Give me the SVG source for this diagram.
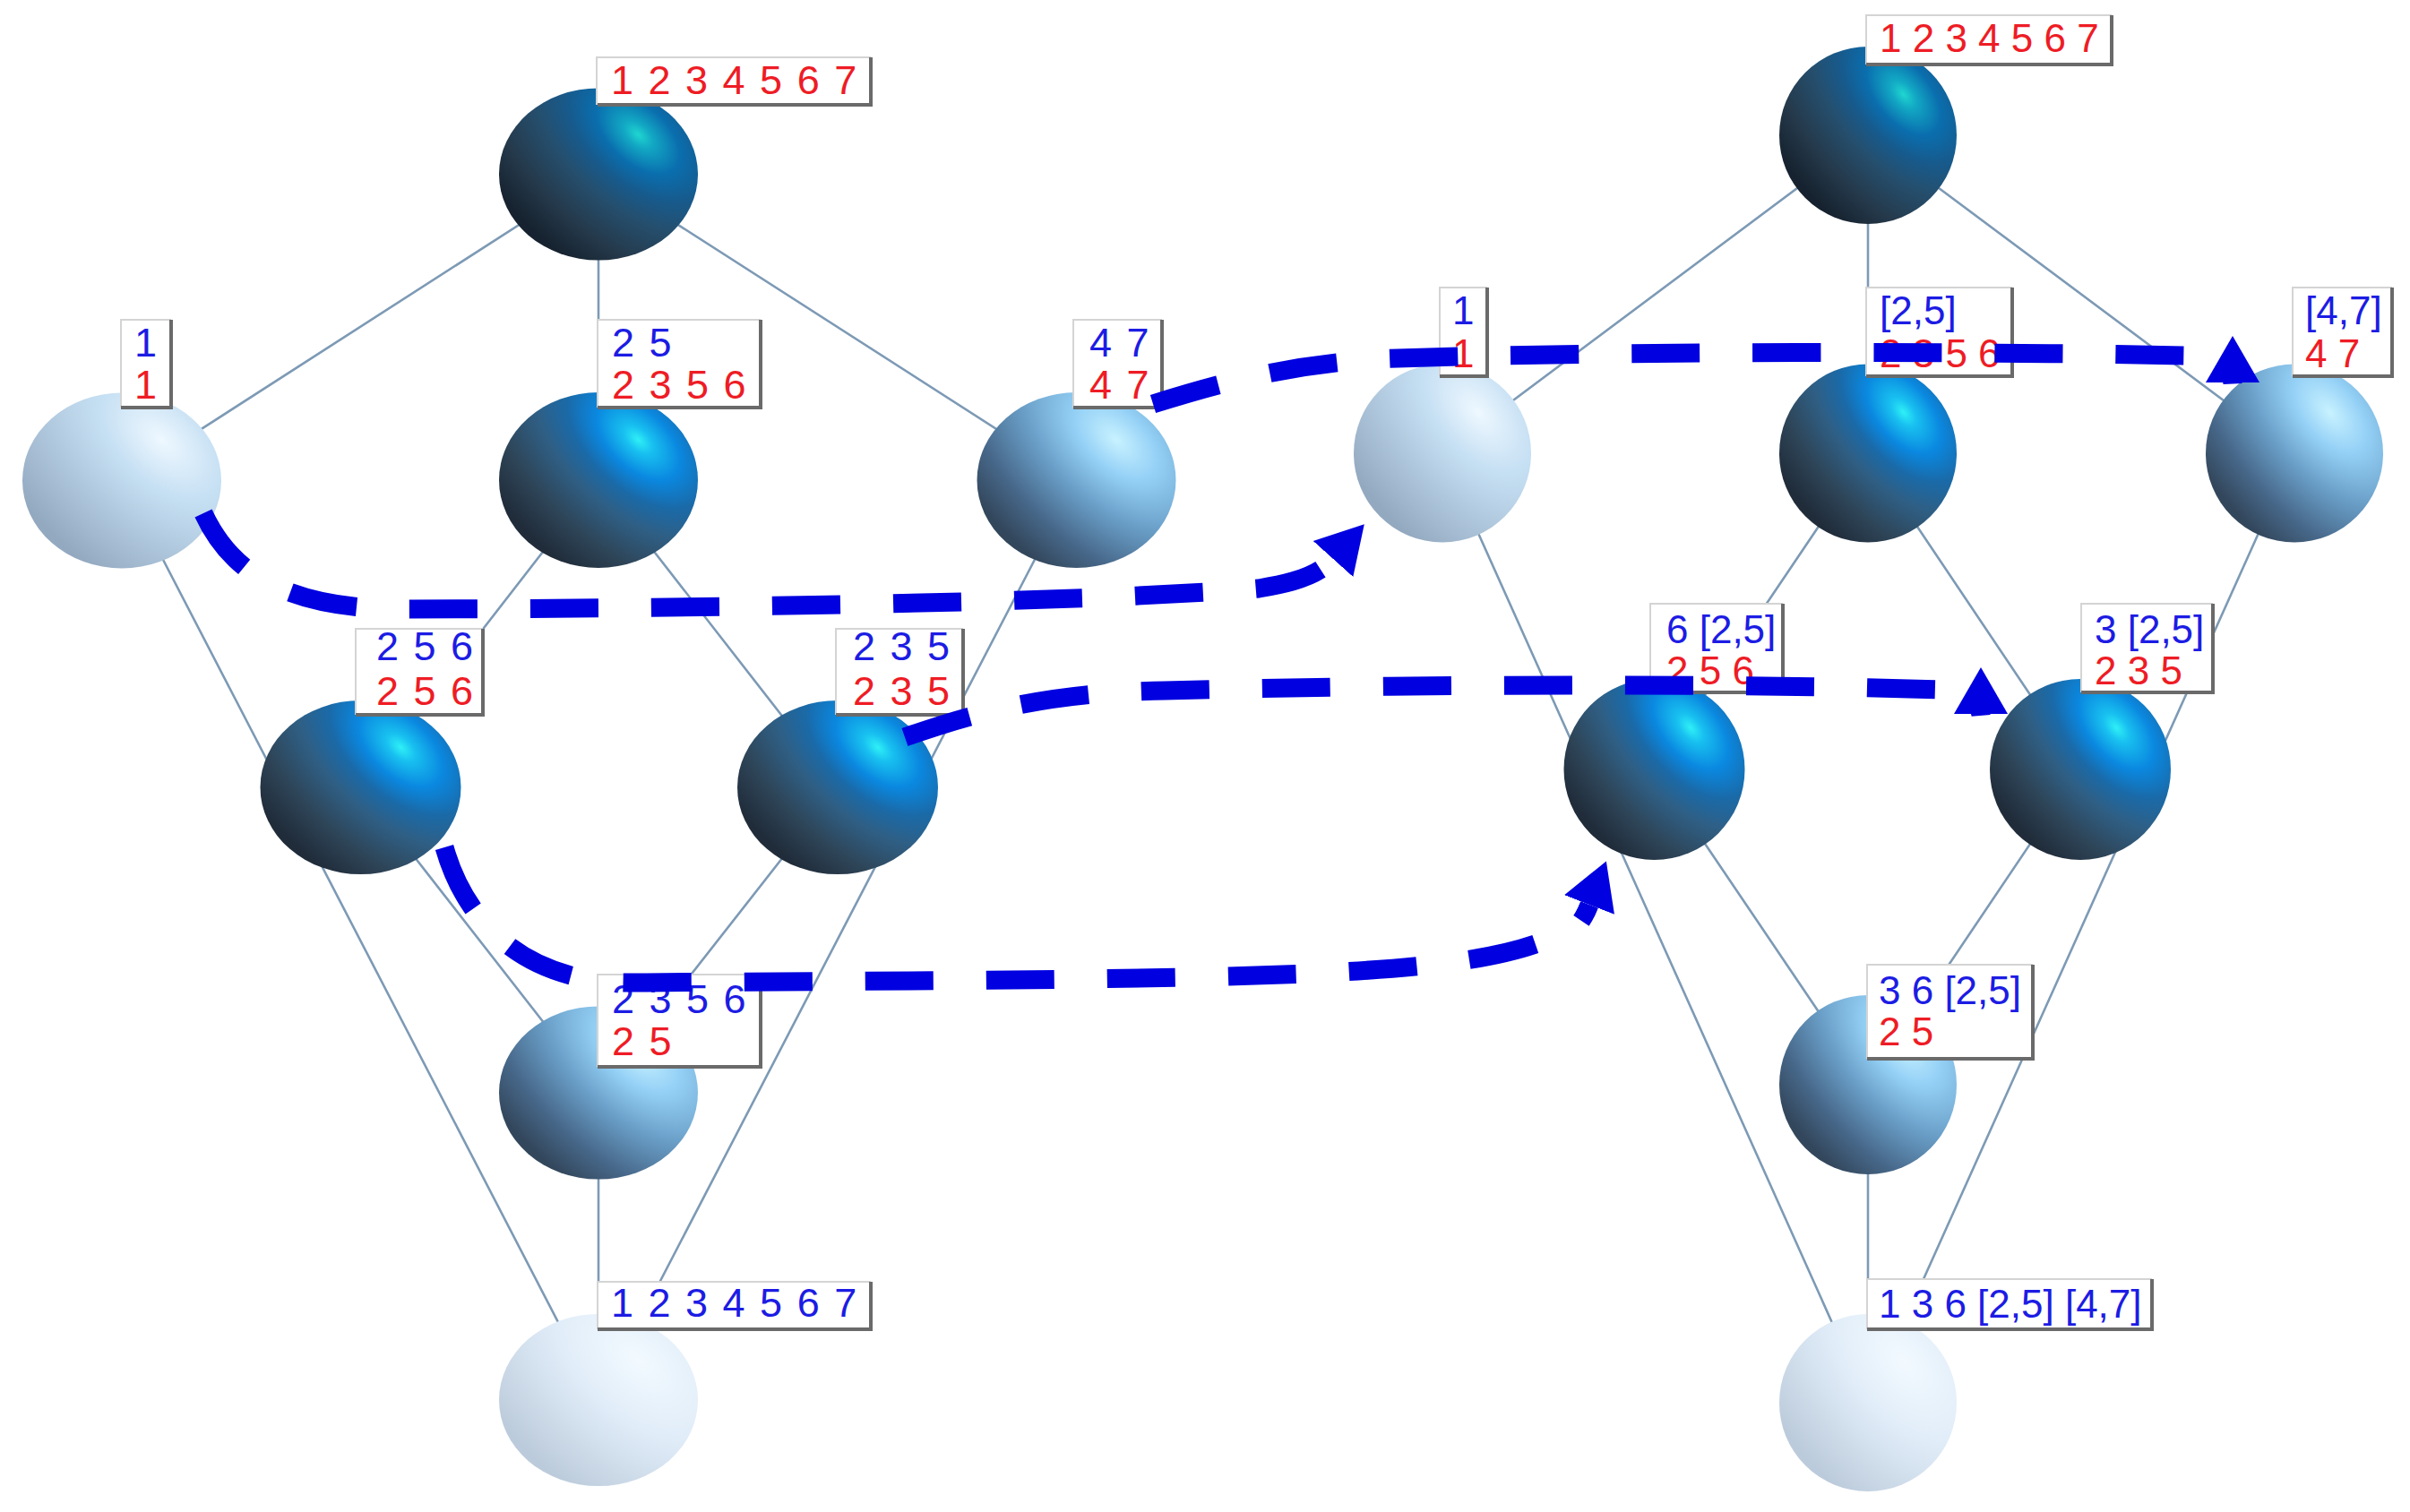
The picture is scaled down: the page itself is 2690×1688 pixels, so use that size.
<svg xmlns="http://www.w3.org/2000/svg" xmlns:xlink="http://www.w3.org/1999/xlink" width="2690" height="1688" viewBox="0 0 2690 1688">
<style>
.e{stroke:#7d9ab5;stroke-width:2.6;fill:none}
.d{stroke:#0000e0;stroke-width:21;fill:none;stroke-dasharray:76 59}
.box{fill:#fff;stroke:#d4d4d4;stroke-width:2}
.sh{fill:none;stroke:#6a6a6a;stroke-width:4}
text{font-family:"Liberation Sans",Arial,sans-serif;font-size:44px}
.l text{font-size:45px;word-spacing:4px}
.b{fill:#1c1ce4}
.r{fill:#ee1c25}
.s0{fill:url(#g0)}.s1{fill:url(#g1)}.s2{fill:url(#g2)}.s3{fill:url(#g3)}.s4{fill:url(#g4)}
</style>
<defs>
<radialGradient id="g0" cx=".7" cy=".27" r=".9" gradientTransform="translate(.7 .27) rotate(50) scale(1.5 .85) translate(-.7 -.27)"><stop offset="0" stop-color="#1fd6d0"/><stop offset=".07" stop-color="#12a8c4"/><stop offset=".2" stop-color="#0a6eae"/><stop offset=".34" stop-color="#175a8c"/><stop offset=".5" stop-color="#254f6e"/><stop offset=".75" stop-color="#253a4c"/><stop offset="1" stop-color="#16222f"/></radialGradient>
<radialGradient id="g1" cx=".7" cy=".27" r=".9" gradientTransform="translate(.7 .27) rotate(50) scale(1.5 .85) translate(-.7 -.27)"><stop offset="0" stop-color="#2ff0f6"/><stop offset=".07" stop-color="#18c0f0"/><stop offset=".2" stop-color="#0a88e0"/><stop offset=".34" stop-color="#1a6aa8"/><stop offset=".5" stop-color="#2f5f85"/><stop offset=".75" stop-color="#2e4558"/><stop offset="1" stop-color="#202c3a"/></radialGradient>
<radialGradient id="g2" cx=".7" cy=".27" r=".9" gradientTransform="translate(.7 .27) rotate(50) scale(1.5 .85) translate(-.7 -.27)"><stop offset="0" stop-color="#c8f2ff"/><stop offset=".2" stop-color="#94d0f6"/><stop offset=".45" stop-color="#6a9fc8"/><stop offset=".75" stop-color="#47688a"/><stop offset="1" stop-color="#33475c"/></radialGradient>
<radialGradient id="g3" cx=".7" cy=".27" r=".9" gradientTransform="translate(.7 .27) rotate(50) scale(1.5 .85) translate(-.7 -.27)"><stop offset="0" stop-color="#eef8ff"/><stop offset=".3" stop-color="#c5dff3"/><stop offset=".6" stop-color="#b0c8dd"/><stop offset="1" stop-color="#93a9c0"/></radialGradient>
<radialGradient id="g4" cx=".7" cy=".27" r=".9" gradientTransform="translate(.7 .27) rotate(50) scale(1.5 .85) translate(-.7 -.27)"><stop offset="0" stop-color="#f2faff"/><stop offset=".4" stop-color="#e0ecf8"/><stop offset="1" stop-color="#bccbdb"/></radialGradient>
<marker id="arr" markerUnits="userSpaceOnUse" markerWidth="60" markerHeight="70" refX="0" refY="35" orient="auto" viewBox="0 0 60 70"><path d="M0,5 L52,35 L0,65 z" fill="#0000e0"/></marker>
</defs>
<rect width="2690" height="1688" fill="#fff"/>
<g id="edges">
<path class="e" d="M668,194L136,536M668,194V536M668,194L1201,536M136,536L668,1563M1201,536L668,1563M668,536L402,879M668,536L935,879M402,879L668,1220M935,879L668,1220M668,1220V1563"/>
<path class="e" d="M2085,151L1610,506M2085,151V506M2085,151L2561,506M1610,506L2085,1566M2561,506L2085,1566M2085,506L1847,859M2085,506L2322,859M1847,859L2085,1211M2322,859L2085,1211M2085,1211V1566"/>
</g>
<g id="left-top" class="l"><ellipse class="s0" cx="668" cy="194.500" rx="111" ry="96"/><rect class="box" x="666" y="64" width="305" height="52"/><path class="sh" d="M972,64V117H667"/><text class="r" x="682" y="105">1 2 3 4 5 6 7</text></g>
<g id="left-1" class="l"><ellipse class="s3" cx="136" cy="536.500" rx="111" ry="98"/><rect class="box" x="135" y="357" width="55" height="97"/><path class="sh" d="M191,357V455H135"/><text class="b" x="150" y="398">1</text><text class="r" x="150" y="445">1</text></g>
<g id="left-25" class="l"><ellipse class="s1" cx="668" cy="536" rx="111" ry="98"/><rect class="box" x="667" y="357" width="181" height="97"/><path class="sh" d="M849,357V455H667"/><text class="b" x="683" y="398">2 5</text><text class="r" x="683" y="445">2 3 5 6</text></g>
<g id="left-47" class="l"><ellipse class="s2" cx="1201.500" cy="536" rx="111" ry="98"/><rect class="box" x="1198" y="357" width="98" height="97"/><path class="sh" d="M1297,357V455H1198"/><text class="b" x="1216" y="398">4 7</text><text class="r" x="1216" y="445">4 7</text></g>
<g id="left-256" class="l"><ellipse class="s1" cx="402.500" cy="879" rx="112" ry="97"/><rect class="box" x="397" y="702" width="141" height="95"/><path class="sh" d="M539,702V798H397"/><text class="b" x="420" y="737">2 5 6</text><text class="r" x="420" y="787">2 5 6</text></g>
<g id="left-235" class="l"><ellipse class="s1" cx="935" cy="879" rx="112" ry="97"/><rect class="box" x="933" y="702" width="141" height="95"/><path class="sh" d="M1075,702V798H933"/><text class="b" x="952" y="737">2 3 5</text><text class="r" x="952" y="787">2 3 5</text></g>
<g id="left-2356" class="l"><ellipse class="s2" cx="668" cy="1220" rx="111" ry="96.500"/><rect class="box" x="667" y="1088" width="181" height="102"/><path class="sh" d="M849,1088V1191H667"/><text class="b" x="683" y="1131">2 3 5 6</text><text class="r" x="683" y="1178">2 5</text></g>
<g id="left-bottom" class="l"><ellipse class="s4" cx="668" cy="1563" rx="111" ry="96"/><rect class="box" x="667" y="1431" width="304" height="52"/><path class="sh" d="M972,1431V1484H667"/><text class="b" x="682" y="1470">1 2 3 4 5 6 7</text></g>
<g id="right-top"><ellipse class="s0" cx="2085" cy="151" rx="99" ry="99"/><rect class="box" x="2083" y="17" width="273" height="54"/><path class="sh" d="M2357,17V72H2083"/><text class="r" x="2098" y="58">1 2 3 4 5 6 7</text></g>
<g id="right-1"><ellipse class="s3" cx="1610" cy="506" rx="99" ry="99.500"/><rect class="box" x="1607" y="321" width="52" height="98"/><path class="sh" d="M1660,321V420H1607"/><text class="b" x="1621" y="362">1</text><text class="r" x="1621" y="410">1</text></g>
<g id="right-25"><ellipse class="s1" cx="2085" cy="506" rx="99" ry="99.500"/><rect class="box" x="2083" y="321" width="162" height="98"/><path class="sh" d="M2246,321V420H2083"/><text class="b" x="2098" y="362">[2,5]</text><text class="r" x="2098" y="410">2 3 5 6</text></g>
<g id="right-47"><ellipse class="s2" cx="2561" cy="506" rx="99" ry="99.500"/><rect class="box" x="2559" y="321" width="110" height="98"/><path class="sh" d="M2670,321V420H2559"/><text class="b" x="2573" y="362">[4,7]</text><text class="r" x="2573" y="410">4 7</text></g>
<g id="right-6-25"><ellipse class="s1" cx="1846.500" cy="859" rx="101" ry="101"/><rect class="box" x="1842" y="674" width="147" height="98"/><path class="sh" d="M1990,674V773H1842"/><text class="b" x="1860" y="718">6 [2,5]</text><text class="r" x="1860" y="764">2 5 6</text></g>
<g id="right-3-25"><ellipse class="s1" cx="2322" cy="859" rx="101" ry="101"/><rect class="box" x="2323" y="674" width="146" height="98"/><path class="sh" d="M2470,674V773H2323"/><text class="b" x="2338" y="718">3 [2,5]</text><text class="r" x="2338" y="764">2 3 5</text></g>
<g id="right-36-25"><ellipse class="s2" cx="2085" cy="1211" rx="99" ry="100"/><rect class="box" x="2084" y="1077" width="184" height="104"/><path class="sh" d="M2269,1077V1182H2084"/><text class="b" x="2097" y="1121">3 6 [2,5]</text><text class="r" x="2097" y="1167">2 5</text></g>
<g id="right-bottom"><ellipse class="s4" cx="2085" cy="1566" rx="99" ry="99"/><rect class="box" x="2084" y="1428" width="317" height="55"/><path class="sh" d="M2402,1428V1484H2084"/><text class="b" x="2097" y="1471">1 3 6 [2,5] [4,7]</text></g>
<g id="connectors">
<path class="d" marker-end="url(#arr)" d="M227,573C258,640 320,679 445,680C700,680 1200,674 1405,657C1440,651 1470,644 1488,624"/>
<path class="d" marker-end="url(#arr)" d="M1287,451C1370,425 1450,404 1560,400C1800,392 2200,392 2443,397C2470,397 2490,405 2492,428L2492,427"/>
<path class="d" marker-end="url(#arr)" d="M1010,823C1090,795 1170,773 1300,771C1600,763 1950,763 2165,770C2190,770 2208,780 2211,798L2211,797"/>
<path class="d" marker-end="url(#arr)" d="M496,946C520,1030 585,1097 703,1097C1000,1095 1300,1094 1460,1087C1560,1082 1660,1075 1722,1051C1745,1042 1760,1046 1774,1010"/>
</g>
</svg>
